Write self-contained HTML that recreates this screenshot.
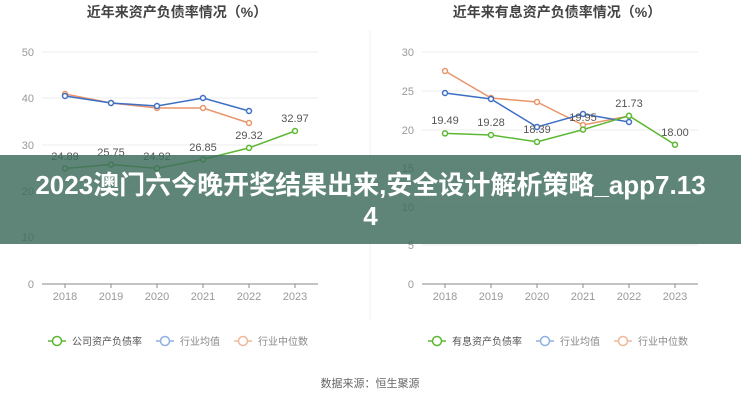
<!DOCTYPE html>
<html><head><meta charset="utf-8"><style>
body{margin:0;width:741px;height:400px;background:#fff;overflow:hidden;position:relative;font-family:"Liberation Sans","Noto Sans CJK SC",sans-serif}
svg{position:absolute;left:0;top:0}
.banner{position:absolute;left:0;top:155px;width:741px;height:89px;background:rgba(62,108,94,0.83);color:#fff;font-weight:bold;font-size:26px;line-height:31px;text-align:center;box-sizing:border-box;padding:15px 0 0 0;white-space:nowrap;font-family:"Liberation Sans","Noto Sans CJK SC",sans-serif}
</style></head><body>
<svg width="741" height="400" font-family="Liberation Sans, Noto Sans CJK SC, sans-serif">
<text x="177" y="17" font-size="14" fill="#444" text-anchor="middle" font-weight="bold">近年来资产负债率情况（%）</text>
<text x="557" y="17" font-size="14" fill="#444" text-anchor="middle" font-weight="bold">近年来有息资产负债率情况（%）</text>
<line x1="370" y1="30" x2="370" y2="320" stroke="#f0f0f0"/>
<g stroke="#ececec">
<line x1="42" y1="52" x2="318" y2="52"/><line x1="42" y1="98" x2="318" y2="98"/><line x1="42" y1="145" x2="318" y2="145"/><line x1="42" y1="191" x2="318" y2="191"/><line x1="42" y1="237" x2="318" y2="237"/>
<line x1="422" y1="52" x2="698" y2="52"/><line x1="422" y1="91" x2="698" y2="91"/><line x1="422" y1="130" x2="698" y2="130"/><line x1="422" y1="168" x2="698" y2="168"/><line x1="422" y1="207" x2="698" y2="207"/><line x1="422" y1="245" x2="698" y2="245"/>
</g>
<line x1="42" y1="284" x2="318" y2="284" stroke="#888"/>
<line x1="422" y1="284" x2="698" y2="284" stroke="#888"/>
<g font-size="11" fill="#999" text-anchor="end">
<text x="34" y="56">50</text><text x="34" y="102">40</text><text x="34" y="149">30</text><text x="34" y="195">20</text><text x="34" y="241">10</text><text x="34" y="288">0</text>
<text x="414" y="56">30</text><text x="414" y="95">25</text><text x="414" y="134">20</text><text x="414" y="172">15</text><text x="414" y="211">10</text><text x="414" y="249">5</text><text x="414" y="288">0</text>
</g>
<g font-size="11" fill="#999" text-anchor="middle">
<text x="65" y="300">2018</text><text x="111" y="300">2019</text><text x="157" y="300">2020</text><text x="203" y="300">2021</text><text x="249" y="300">2022</text><text x="295" y="300">2023</text>
<text x="445" y="300">2018</text><text x="491" y="300">2019</text><text x="537" y="300">2020</text><text x="583" y="300">2021</text><text x="629" y="300">2022</text><text x="675" y="300">2023</text>
</g>
<g stroke="#888"><line x1="65" y1="284" x2="65" y2="288"/><line x1="111" y1="284" x2="111" y2="288"/><line x1="157" y1="284" x2="157" y2="288"/><line x1="203" y1="284" x2="203" y2="288"/><line x1="249" y1="284" x2="249" y2="288"/><line x1="295" y1="284" x2="295" y2="288"/>
<line x1="445" y1="284" x2="445" y2="288"/><line x1="491" y1="284" x2="491" y2="288"/><line x1="537" y1="284" x2="537" y2="288"/><line x1="583" y1="284" x2="583" y2="288"/><line x1="629" y1="284" x2="629" y2="288"/><line x1="675" y1="284" x2="675" y2="288"/></g>
<g fill="#fff" stroke-width="1.5">
<polyline fill="none" stroke="#e8956a" points="65,94 111,103 157,108 203,108 249,123"/>
<g stroke="#e8956a"><circle cx="65" cy="94" r="2.5"/><circle cx="111" cy="103" r="2.5"/><circle cx="157" cy="108" r="2.5"/><circle cx="203" cy="108" r="2.5"/><circle cx="249" cy="123" r="2.5"/></g>
<polyline fill="none" stroke="#3d6fc4" points="65,96 111,103 157,106 203,98 249,111"/>
<g stroke="#3d6fc4"><circle cx="65" cy="96" r="2.5"/><circle cx="111" cy="103" r="2.5"/><circle cx="157" cy="106" r="2.5"/><circle cx="203" cy="98" r="2.5"/><circle cx="249" cy="111" r="2.5"/></g>
<polyline fill="none" stroke="#5cb832" points="65,168.5 111,164.5 157,168.4 203,159.4 249,147.9 295,131"/>
<g stroke="#5cb832"><circle cx="65" cy="168.5" r="2.5"/><circle cx="111" cy="164.5" r="2.5"/><circle cx="157" cy="168.4" r="2.5"/><circle cx="203" cy="159.4" r="2.5"/><circle cx="249" cy="147.9" r="2.5"/><circle cx="295" cy="131" r="2.5"/></g>
<polyline fill="none" stroke="#e8956a" points="445,71 491,98 537,102 583,125 629,116"/>
<g stroke="#e8956a"><circle cx="445" cy="71" r="2.5"/><circle cx="491" cy="98" r="2.5"/><circle cx="537" cy="102" r="2.5"/><circle cx="583" cy="125" r="2.5"/><circle cx="629" cy="116" r="2.5"/></g>
<polyline fill="none" stroke="#3d6fc4" points="445,93 491,99 537,127 583,114 629,122"/>
<g stroke="#3d6fc4"><circle cx="445" cy="93" r="2.5"/><circle cx="491" cy="99" r="2.5"/><circle cx="537" cy="127" r="2.5"/><circle cx="583" cy="114" r="2.5"/><circle cx="629" cy="122" r="2.5"/></g>
<polyline fill="none" stroke="#5cb832" points="445,133.4 491,135 537,141.9 583,129.6 629,115.8 675,144.7"/>
<g stroke="#5cb832"><circle cx="445" cy="133.4" r="2.5"/><circle cx="491" cy="135" r="2.5"/><circle cx="537" cy="141.9" r="2.5"/><circle cx="583" cy="129.6" r="2.5"/><circle cx="629" cy="115.8" r="2.5"/><circle cx="675" cy="144.7" r="2.5"/></g>
</g>
<g font-size="11" fill="#555" text-anchor="middle">
<text x="65" y="160">24.89</text><text x="111" y="156">25.75</text><text x="157" y="160">24.92</text><text x="203" y="151">26.85</text><text x="249" y="139">29.32</text><text x="295" y="122">32.97</text>
<text x="445" y="124">19.49</text><text x="491" y="126">19.28</text><text x="537" y="133">18.39</text><text x="583" y="121">19.95</text><text x="629" y="107">21.73</text><text x="675" y="136">18.00</text>
</g>
<g font-size="10" fill="#555" stroke-width="1.5">
<line x1="48" y1="341" x2="66" y2="341" stroke="#5cb832"/><circle cx="57" cy="341" r="4.5" fill="#fff" stroke="#5cb832"/><text x="72" y="345">公司资产负债率</text>
<line x1="156" y1="341" x2="174" y2="341" stroke="#8fb0e3"/><circle cx="165" cy="341" r="4.5" fill="#fff" stroke="#8fb0e3"/><text x="180" y="345" fill="#888">行业均值</text>
<line x1="234" y1="341" x2="252" y2="341" stroke="#f0b89b"/><circle cx="243" cy="341" r="4.5" fill="#fff" stroke="#f0b89b"/><text x="258" y="345" fill="#888">行业中位数</text>
<line x1="428" y1="341" x2="446" y2="341" stroke="#5cb832"/><circle cx="437" cy="341" r="4.5" fill="#fff" stroke="#5cb832"/><text x="452" y="345">有息资产负债率</text>
<line x1="536" y1="341" x2="554" y2="341" stroke="#8fb0e3"/><circle cx="545" cy="341" r="4.5" fill="#fff" stroke="#8fb0e3"/><text x="560" y="345" fill="#888">行业均值</text>
<line x1="614" y1="341" x2="632" y2="341" stroke="#f0b89b"/><circle cx="623" cy="341" r="4.5" fill="#fff" stroke="#f0b89b"/><text x="638" y="345" fill="#888">行业中位数</text>
</g>
<text x="370" y="387" font-size="11" fill="#666" text-anchor="middle">数据来源：恒生聚源</text>
</svg>
<div class="banner">2023澳门六今晚开奖结果出来,安全设计解析策略_app7.13<br>4</div>
</body></html>
